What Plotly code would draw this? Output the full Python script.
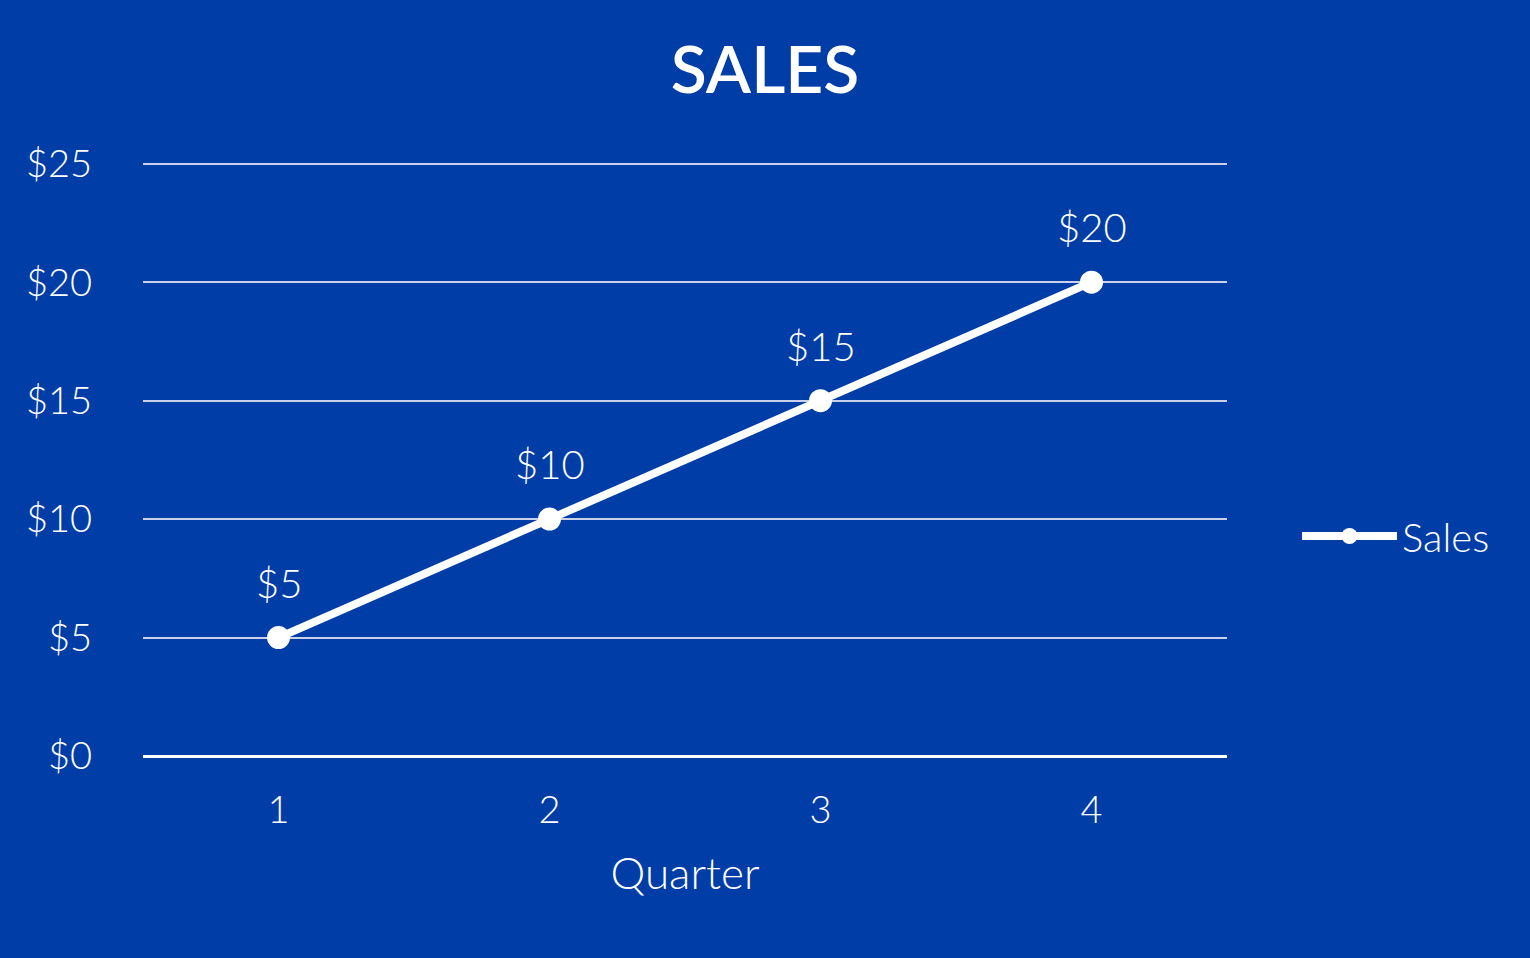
import plotly.graph_objects as go

quarters = [1, 2, 3, 4]
sales = [5, 10, 15, 20]
labels = ["$5", "$10", "$15", "$20"]
y_ticks = [0, 5, 10, 15, 20, 25]
y_tick_text = ["$0", "$5", "$10", "$15", "$20", "$25"]

BG = "#013da6"
FONT = "Lato"

fig = go.Figure()
fig.add_trace(go.Scatter(
    x=quarters, y=sales, name="Sales", mode="lines+markers",
    line=dict(color="white", width=8),
    marker=dict(color="white", size=23),
))

for q, v, t in zip(quarters, sales, labels):
    fig.add_annotation(x=q, y=v, text=t, showarrow=False, yshift=55, yanchor="middle",
                       font=dict(family=FONT, size=40, color="white", weight=300))

fig.update_layout(
    width=1530, height=958,
    paper_bgcolor=BG, plot_bgcolor=BG,
    margin=dict(l=143, r=303, t=159, b=202),
    font=dict(family=FONT, color="white", weight=300),
    title=dict(text="SALES", x=0.5, xanchor="center", xref="container",
               y=1 - 70 / 958, yanchor="middle", yref="container",
               font=dict(family=FONT, size=66, color="white", weight=600)),
    showlegend=True,
    legend=dict(x=1 + (1297 - 1227) / 1084, xanchor="left", y=(958 - 202 - 536) / 597, yanchor="middle",
                font=dict(family=FONT, size=40, color="white", weight=300),
                itemwidth=95, bgcolor="rgba(0,0,0,0)"),
    xaxis=dict(range=[0.5, 4.5], tickvals=quarters, ticktext=[str(q) for q in quarters],
               showgrid=False, zeroline=False, showline=False,
               tickfont=dict(family=FONT, size=38, color="white", weight=300),
               ticklabelstandoff=28,
               title=dict(text="Quarter", font=dict(family=FONT, size=44, color="white", weight=300), standoff=28)),
    yaxis=dict(range=[0, 25.2], tickvals=y_ticks, ticktext=y_tick_text,
               showgrid=True, gridcolor="#c9d2ea", gridwidth=2,
               zeroline=True, zerolinecolor="white", zerolinewidth=3,
               showline=False,
               tickfont=dict(family=FONT, size=38, color="white", weight=300),
               ticklabelstandoff=50),
)

fig.write_html("out.html", config={"displayModeBar": False},
               post_script="document.body.style.margin='0';document.body.style.background='%s';" % BG)
